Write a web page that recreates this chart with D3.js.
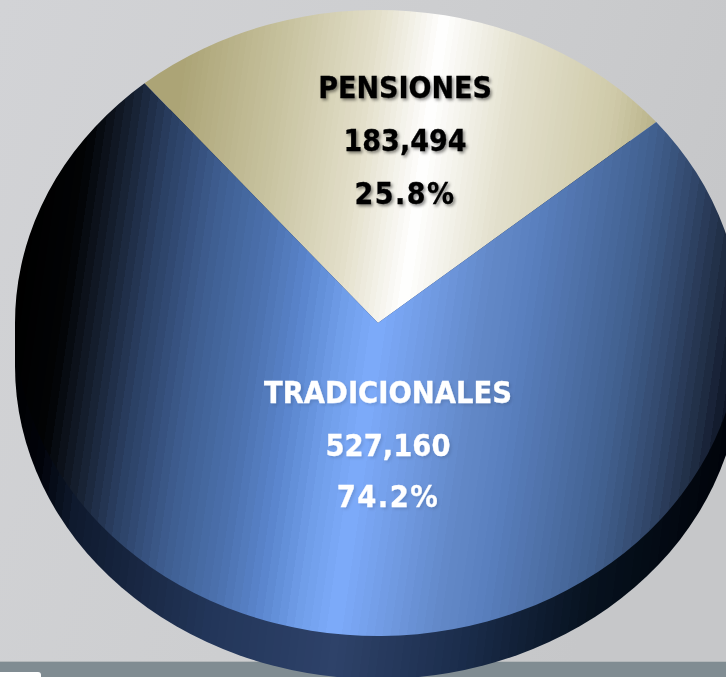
<!DOCTYPE html>
<html>
<head>
<meta charset="utf-8">
<script src="https://cdn.jsdelivr.net/npm/d3@7"></script>
<style>
html, body { margin: 0; padding: 0; background: #ccc; overflow: hidden; }
svg { display: block; }
text { font-family: "DejaVu Sans", sans-serif; font-weight: bold; text-anchor: middle; }
</style>
</head>
<body>
<div id="chart"></div>
<script>
/* Data */
const categories = ["PENSIONES", "TRADICIONALES"];
const values = [183494, 527160];
const percents = ["25.8%", "74.2%"];

/* Layout */
const width = 726, height = 677;
const cx = 378, cy = 323;
const rx = 363, ry = 313;
const depth = 43;
const MID = 5 * Math.PI / 180;   // where the back slice is centred
const FORESHORTEN = 0.969;       // back slice looks a bit narrower in the 3d view
const TILT = 7;                  // the shading bands lean a little
const BANDS = 90;

const svg = d3.select("#chart").append("svg")
    .attr("width", width)
    .attr("height", height);
const defs = svg.append("defs");

// banded horizontal gradient, like the stepped fills of the original
function bandedGradient(id, x0, x1, domain, colors) {
    const color = d3.scaleLinear().domain(domain).range(colors).interpolate(d3.interpolateRgb);
    const g = defs.append("linearGradient")
        .attr("id", id)
        .attr("gradientUnits", "userSpaceOnUse")
        .attr("x1", x0).attr("y1", 0)
        .attr("x2", x1).attr("y2", 0);
    for (let i = 0; i < BANDS; i++) {
        const c = color(x0 + (x1 - x0) * (i + 0.5) / BANDS);
        g.append("stop").attr("offset", i / BANDS).attr("stop-color", c);
        g.append("stop").attr("offset", (i + 1) / BANDS).attr("stop-color", c);
    }
    return g;
}

// the faces are drawn around (cx,cy), so their gradients get shifted to page x
bandedGradient("blue", 15, 741,
    [15, 65, 100, 145, 200, 260, 300, 340, 378, 480, 520, 625, 668, 712, 741],
    ["#000000", "#020305", "#141d2c", "#2a3f62", "#3e5d90", "#4d73b0", "#5a85cd", "#6f9de8", "#7dabfb", "#6389c8", "#5a80bf", "#41608f", "#33496d", "#1f2c42", "#0a1020"])
    .attr("gradientTransform", `rotate(${TILT}) translate(${-cx},0)`);
bandedGradient("tan", 145, 656,
    [145, 250, 335, 400, 480, 580, 656],
    ["#aba375", "#c8c3a0", "#e3dfca", "#ffffff", "#e3e0cd", "#cfcaa9", "#aba375"])
    .attr("gradientTransform", `rotate(${TILT}) translate(${-cx},0)`);
bandedGradient("blueSide", 15, 741,
    [15, 60, 100, 250, 378, 500, 620, 741],
    ["#000000", "#01030a", "#0f1a2e", "#23365a", "#2e4269", "#1b2d4c", "#07121f", "#00030a"])
    .attr("gradientTransform", `rotate(${TILT},${cx},${cy})`);

defs.append("linearGradient")
    .attr("id", "wall")
    .attr("x1", 0).attr("y1", 0).attr("x2", 1).attr("y2", 0.3)
    .selectAll("stop")
    .data([["0%", "#d2d3d6"], ["55%", "#cdced0"], ["100%", "#c6c7c9"]])
    .join("stop")
    .attr("offset", d => d[0])
    .attr("stop-color", d => d[1]);

// dark labels carry a clear shadow, the white ones hardly any
function textShadow(id, opacity) {
    defs.append("filter")
        .attr("id", id)
        .attr("x", "-10%").attr("y", "-30%").attr("width", "120%").attr("height", "160%")
        .append("feDropShadow")
        .attr("dx", 2).attr("dy", 2).attr("stdDeviation", 1.6)
        .attr("flood-color", "#000").attr("flood-opacity", opacity);
}
textShadow("shadowDark", 0.45);
textShadow("shadowLight", 0.12);

/* Background */
svg.append("rect").attr("width", width).attr("height", 662).attr("fill", "url(#wall)");
svg.append("rect").attr("y", 662).attr("width", width).attr("height", 15).attr("fill", "#808c92");
svg.append("rect").attr("y", 661).attr("width", width).attr("height", 1).attr("fill", "#b4b8ba");
svg.append("rect").attr("x", -8).attr("y", 672).attr("width", 49).attr("height", 14).attr("rx", 3).attr("fill", "#fff");

/* Pie */
const angle = d3.scaleLinear().domain([0, d3.sum(values)]).range([0, 2 * Math.PI]);
const backSweep = angle(values[0]) * FORESHORTEN;
const backStart = MID - backSweep / 2;
const backEnd = MID + backSweep / 2;
const arcs = [
    {startAngle: backStart, endAngle: backEnd},
    {startAngle: backEnd, endAngle: backStart + 2 * Math.PI}
];
const arc = d3.arc().innerRadius(0).outerRadius(rx);
const squash = ry / rx;

// side wall: the whole disc moved down, hidden by the top face
svg.append("ellipse")
    .attr("cx", cx).attr("cy", cy + depth)
    .attr("rx", rx).attr("ry", ry)
    .attr("fill", "url(#blueSide)");
svg.append("rect")
    .attr("x", cx - rx).attr("y", cy)
    .attr("width", 2 * rx).attr("height", depth)
    .attr("fill", "url(#blueSide)");

const fills = ["url(#tan)", "url(#blue)"];

svg.append("g")
    .selectAll("path")
    .data(arcs)
    .join("path")
    .attr("d", arc)
    .attr("transform", `translate(${cx},${cy}) scale(1,${squash})`)
    .attr("fill", (d, i) => fills[i]);

/* Labels */
const labelY = [[98, 151, 204], [403, 456, 507]];
const labelX = [405, 388];
const labelColor = ["#000", "#fff"];
const labelScale = [0.9, 0.915];
const labelFilter = ["url(#shadowDark)", "url(#shadowLight)"];

categories.forEach((name, i) => {
    const lines = [name, d3.format(",")(values[i]), percents[i]];
    svg.append("g")
        .attr("filter", labelFilter[i])
        .attr("transform", `translate(${labelX[i]},0) scale(${labelScale[i]},1)`)
        .attr("fill", labelColor[i])
        .attr("stroke", labelColor[i])
        .attr("stroke-width", 0.3)
        .selectAll("text")
        .data(lines)
        .join("text")
        .attr("y", (d, j) => labelY[i][j])
        .attr("font-size", 30)
        .attr("letter-spacing", (d, j) => j === 2 ? 1.6 : 0)
        .text(d => d);
});
</script>
</body>
</html>
